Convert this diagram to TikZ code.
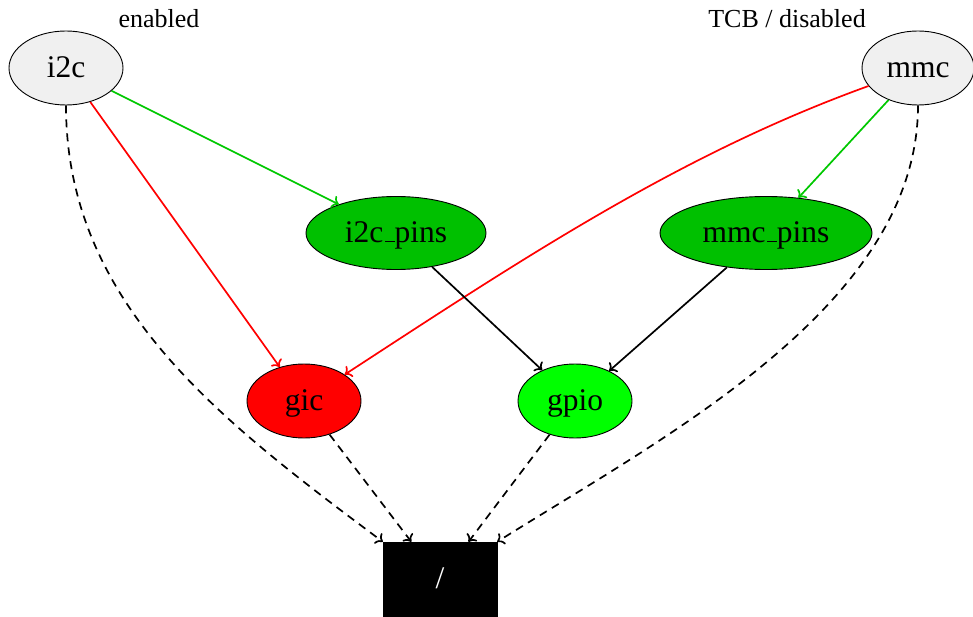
\documentclass[tikz,border=0pt]{standalone}
\usepackage{fontspec}
\setmainfont{Liberation Serif}
\usetikzlibrary{arrows.meta,shapes.geometric}
\definecolor{devgray}{RGB}{240,240,240}
\definecolor{pinsgreen}{RGB}{0,192,0}
\definecolor{linkgreen}{RGB}{0,200,0}
\definecolor{gpiogreen}{RGB}{0,255,0}
% low underscore rule, as in classic LaTeX \_
\newcommand\usc{\kern.06em\vbox{\hrule height 1.3pt width .3em}}
\begin{document}
\begin{tikzpicture}[x=1pt,y=-1pt,
  dev/.style={ellipse,draw=black,line width=0.9pt,inner sep=0pt,
    minimum height=74pt,text height=23.6pt,text depth=4.7pt,
    font=\fontsize{31.5}{36}\selectfont},
  lbl/.style={font=\fontsize{26}{30}\selectfont},
  edge/.style={line width=1.7pt,-{To[length=6.5pt,width=13pt]}},
  dep/.style={edge,dash pattern=on 8pt off 6pt}]
\useasboundingbox (0,0) rectangle (973,617);

% devices
\node[dev,fill=devgray,minimum width=114pt] (i2c) at (66,68) {i2c};
\node[dev,fill=devgray,minimum width=112pt] (mmc) at (918,68) {mmc};
\node[dev,fill=pinsgreen,minimum width=180pt,minimum height=73pt] (i2cpins) at (396,233) {i2c\usc pins};
\node[dev,fill=pinsgreen,minimum width=212pt,minimum height=73pt] (mmcpins) at (766,233) {mmc\usc pins};
\node[dev,fill=red,minimum width=114pt] (gic) at (304,401) {gic};
\node[dev,fill=gpiogreen,minimum width=114pt] (gpio) at (575,401) {gpio};
\node[draw=black,fill=black,text=white,minimum width=114pt,minimum height=75pt,
  inner sep=0pt,text height=23.6pt,text depth=4.7pt,
  font=\fontsize{31.5}{36}\selectfont] (root) at (440,579.5) {/};

% state labels
\node[lbl] (lblen) at (159,19) {enabled};
\node[lbl] (lbldis) at (787,19) {TCB / disabled};

% dependencies
\draw[edge,linkgreen] (i2c) -- (i2cpins);
\draw[edge,red] (i2c) -- (gic);
\draw[dep] (i2c.south) .. controls (66,305) and (224,423) .. (root.north west);
\draw[edge,red] (mmc.200) .. controls (680,154) and (522,259) .. (gic.33);
\draw[edge,linkgreen] (mmc) -- (mmcpins);
\draw[dep] (mmc.south) .. controls (918,305) and (664,437) .. (root.north east);
\draw[edge] (i2cpins) -- (gpio);
\draw[edge] (mmcpins) -- (gpio);
\draw[dep] (gic) -- (root);
\draw[dep] (gpio) -- (root);
\end{tikzpicture}
\end{document}
